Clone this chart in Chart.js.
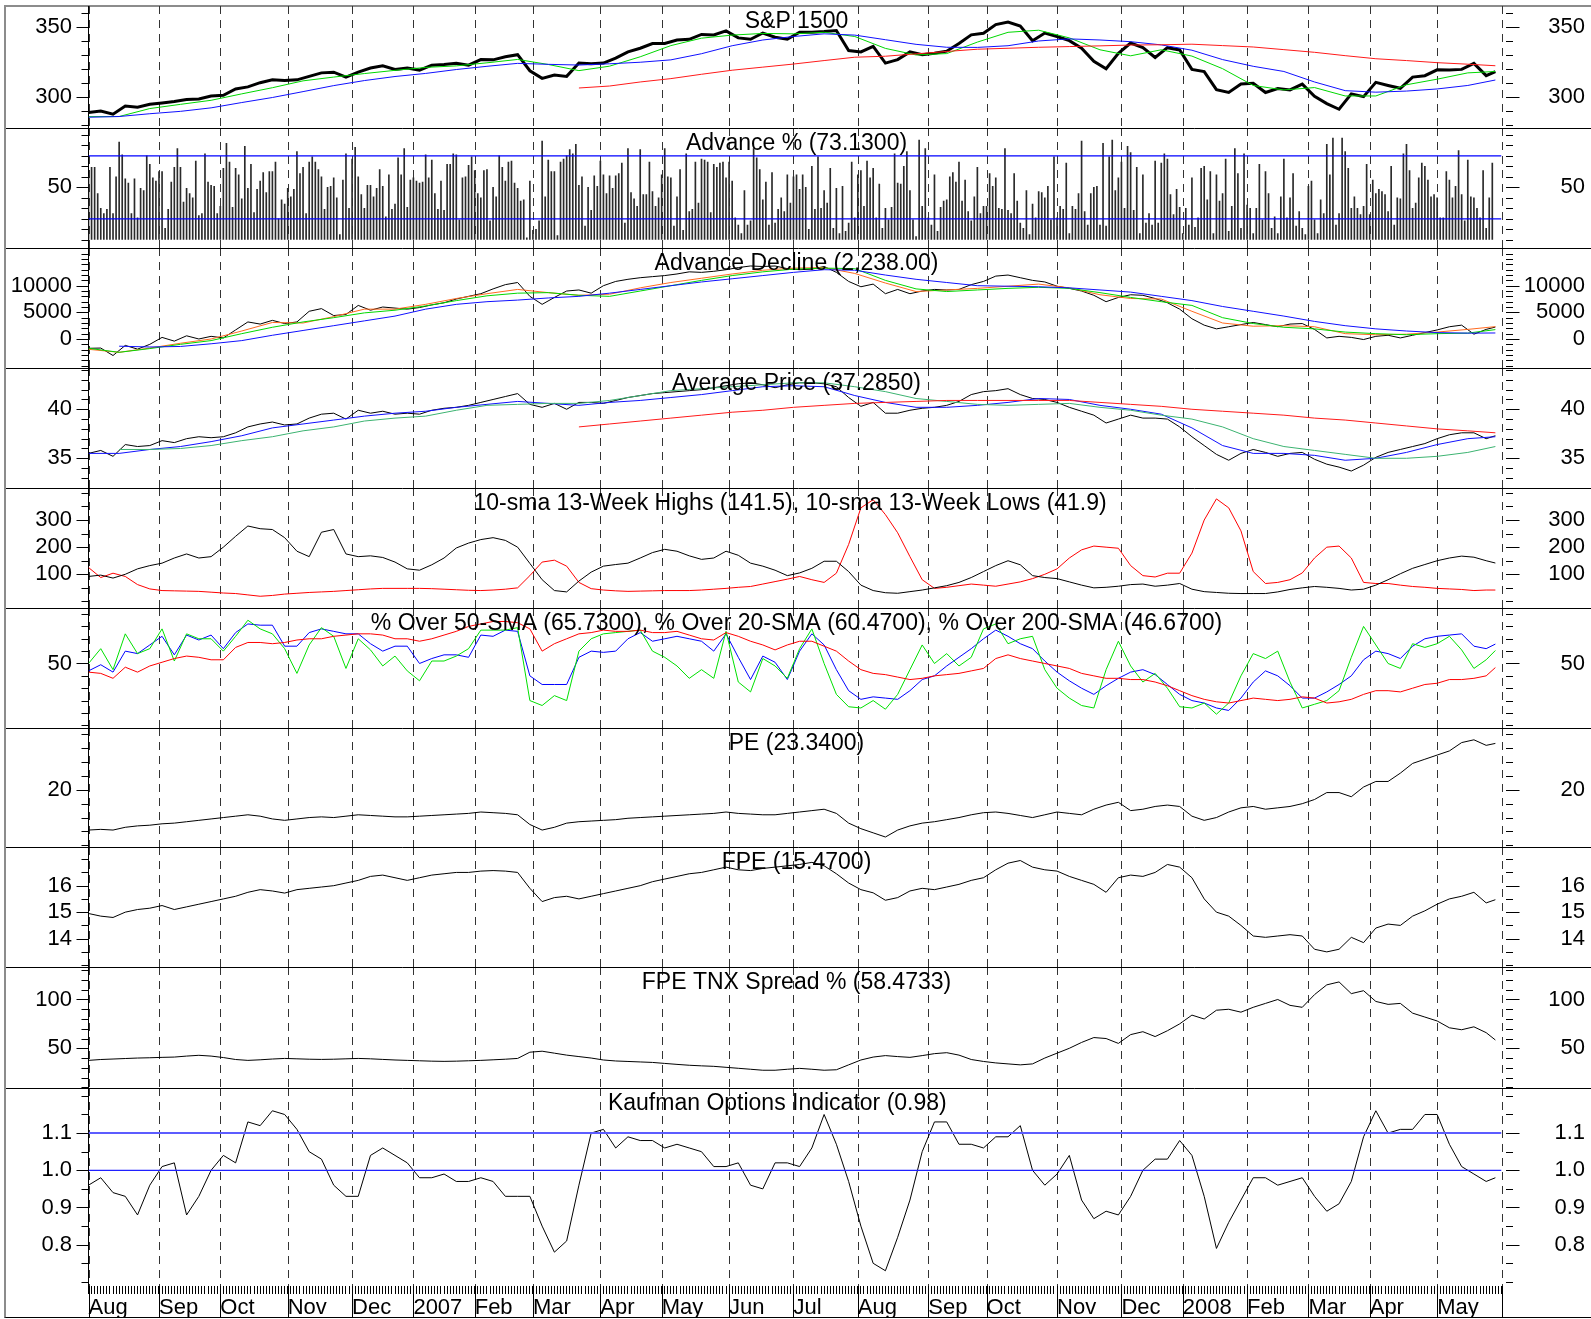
<!DOCTYPE html>
<html>
<head>
<meta charset="utf-8">
<title>S&amp;P 1500 breadth panels</title>
<script src="https://cdn.jsdelivr.net/npm/chart.js@4.4.0/dist/chart.umd.min.js"></script>
<style>
  html, body { margin: 0; padding: 0; background: #fff; }
  #page { position: relative; width: 1591px; height: 1319px; overflow: hidden; }
  #frame { position: absolute; left: 4px; top: 5px; width: 1587px; height: 1313px; box-sizing: border-box;
           border-left: 2px solid #8c8c8c; border-top: 2px solid #8c8c8c; border-bottom: 1px solid #000; }
  canvas { position: absolute; left: 0; }
</style>
</head>
<body>
<div id="page"><div id="frame"></div></div>
<script>
// x axis = trading days, day 0 = first session of Aug 2006
const monthNames = ['Aug','Sep','Oct','Nov','Dec','2007','Feb','Mar','Apr','May','Jun','Jul','Aug','Sep','Oct','Nov','Dec','2008','Feb','Mar','Apr','May'];
const monthStartDays = [0,23,43,65,86,106,126,145,167,187,209,230,251,274,293,316,337,357,378,398,418,440,461];
const lastDataDay = 459;
const sampleStep = 4;   // days between samples of the main lines
const maStep = 10;      // days between samples of the moving averages

// S&P 1500
const spClose = [288.6,289.8,287.5,293.3,292.5,294.5,295.5,296.5,298,298.4,
  300.5,301,305.5,307,310,312,311.5,312,314.5,317,
  317.5,314,317.5,320.5,322,319.5,320.5,319,322.5,323,
  323.8,322.5,326.5,326.3,328.5,330,318.5,313.1,315.5,314.5,
  324,323.5,324,327.5,332,334.6,338,338,340.5,341,
  344.5,344.1,347,342,341,345.5,342.5,341,346,346,
  346.5,347.3,333,332,336,324,326.5,332,330,331,
  332.5,338,344.2,345.3,351.5,353.3,350.5,340,345.5,343,
  340,334.6,325.3,320,331,338.3,335,328,335,333.4,
  319.5,317.9,305,303,309,309.6,303,305.8,304.8,309,
  300.3,295,291,302,300,310.2,308,306,314,315,
  319.2,319,319.5,323.8,315,317.9];
const spMaGreen = [285.7,285.8,291.5,294.5,297.4,302,306.4,311.3,314,316.5,
  318.8,320.9,322,324.2,326.6,323,318.6,321.8,328.5,336.5,
  341.8,344,345.2,344.9,346,343,334.5,329.8,330.8,339,
  346,347.5,342,333.5,329.2,333.5,329,320,308,304.8,
  306.5,300.5,300.5,308.5,312.5,317,318];
const spMaBlue = [285.3,285.8,287.8,289.5,292,295.8,299.4,303.6,307.9,311.5,
  314.4,316.6,319.4,321.7,323.8,323.1,322.6,323.5,324.6,326.3,
  330.7,336.4,340.5,343,344.9,344,340.7,337.4,335.3,335.2,
  336.4,339.8,341.3,340.5,339.3,337,333.2,326.5,321.7,318,
  310.5,304.3,303.2,304,305.5,308,311.9];
const spMaRed = [null,null,null,null,null,null,null,null,null,null,
  null,null,null,null,null,null,306.2,307.6,310.5,312.9,
  316,318.9,321.1,323.3,325.8,328.2,328.9,330.6,332.3,333.9,
  334.6,335.3,335.8,336.3,336.9,337.1,337.5,336.5,335.5,333.6,
  331.7,329.3,327.1,325.8,324.3,323.2,322.1];
const spRange = [277.6, 364.8], spTickLabels = [300, 350];

// Advance %, one bar per session
const advancePct = [60,
  69,69,44,30,25,29,69,25,60,93, 81,58,54,25,58,21,49,47,80,72, 59,56,65,65,11,29,55,69,87,69,
  36,49,44,40,75,23,25,82,55,52, 51,25,32,68,92,74,31,68,62,39, 89,49,72,26,48,56,64,45,65,65,
  74,20,38,34,49,41,48,84,63,69, 25,74,79,74,67,60,29,50,51,59, 40,5,57,82,30,77,88,60,43,30,
  52,52,41,49,67,51,22,62,29,34, 78,62,87,31,57,59,56,54,55,81, 59,76,44,29,56,28,72,72,82,81,
  19,59,60,71,79,66,44,40,66,67, 18,50,41,80,69,56,74,75,54,49, 37,38,2,56,9,10,18,94,41,76,
  65,65,4,74,77,80,86,82,91,52, 60,13,50,28,61,51,75,62,44,61, 49,61,63,73,16,87,45,39,32,86,
  43,43,74,46,32,40,62,87,60,59, 13,41,67,9,82,27,29,74,35,77, 76,74,26,72,69,73,74,59,74,56,
  21,14,6,47,14,18,87,78,67,38, 55,14,64,16,29,40,27,62,35,60,
  62,48,62,50,10,70,29,79,30, 47,35,68,11,49,6,51,8,16,74, 21,62,66,32,75,59,68,21,53,11,
  30,19,31,82,54,53,70,84,47,19, 3,95,32,87,21,14,62,8,31,37, 38,60,64,55,74,37,57,27,18,41,
  69,25,32,32,63,51,59,30,29,87, 28,25,63,37,16,11,47,5,34,21, 46,45,40,51,19,79,21,32,29,73,
  6,32,29,44,94,27,14,44,50,51, 14,92,13,79,95,47,59,74,30,89, 83,28,69,6,62,16,25,14,75,16,
  73,82,77,43,24,48,31,6,30,14, 59,12,21,68,70,38,65,6,62,37, 44,77,8,32,87,63,11,82,33,30,
  6,30,72,19,65,44,11,22,6,41, 77,21,40,63,13,27,11,5,51,56, 19,6,38,25,91,62,97,14,25,97,
  84,68,30,41,30,24,32,72,24,57, 44,48,46,43,27,70,14,40,39,82, 91,66,30,35,59,73,70,57,41,43,
  40,21,21,65,57,40,51,85,43,18, 76,41,40,30,21,66,11,40,73];
const advanceLevels = [20, 80];
const advRange = [-7.8, 106.5], advTickLabels = [50];

// Advance Decline line
const adLine = [-1745,-1700,-3100,-1200,-1900,-1000,300,-400,600,0,
  500,200,1700,3200,2800,3500,2900,3200,5200,5700,
  4400,4600,6300,5400,6000,5800,5600,5900,6400,6800,
  7500,8000,8500,9400,10200,10600,8000,6500,7800,9000,
  9200,8600,10000,10800,11200,11500,11700,11900,12200,12600,
  12500,12700,13000,13400,13700,13600,13700,13200,13000,13100,
  13600,12500,10800,9800,10300,8500,9300,8500,9000,9300,
  9200,9300,10200,10800,11800,12000,11500,11000,10700,9900,
  9500,9000,8200,7000,7800,8300,8200,7600,6800,5600,
  3800,2600,1900,2300,2700,3100,2700,2300,2800,2900,
  1800,200,500,300,-100,500,700,200,700,1200,
  1700,2300,2600,900,1800,2238];
const adMaOrange = [-1932,-2500,-1700,-800,0,1500,3100,3000,4200,5600,
  5600,6500,7600,8500,9300,8700,8200,8400,9600,10600,
  11400,12200,12900,13300,13400,12300,10500,8900,9200,9500,
  9900,10300,9600,8300,7600,7500,5200,3000,2400,2500,
  2300,1000,800,900,1300,1800,2320];
const adMaGreen = [-1745,-2500,-1800,-1000,-300,1000,2200,3200,4000,4900,
  5400,6200,7200,8100,8600,8700,8200,8000,9000,10000,
  11000,11900,12600,13100,13300,13200,11000,9400,8900,9200,
  9500,9700,9500,8700,7800,7000,6300,4000,2900,2200,
  1900,1300,1000,800,1000,1100,1760];
const adMaBlue = [null,-1350,-1500,-1400,-900,-300,700,1600,2500,3400,
  4300,5600,6500,7000,7300,7700,8000,8600,9300,10000,
  10700,11300,11900,12500,13000,12900,12000,11200,10600,10000,
  9900,9800,9600,9200,8800,8000,7200,6100,5200,4300,
  3300,2500,1900,1500,1200,1100,1130];
const adRange = [-5441, 17073], adTickLabels = [0, 5000, 10000];

// Average Price
const avgPrice = [35.5,35.8,35.2,36.4,36.2,36.3,36.8,36.6,37.0,37.2,
  37.1,37.2,37.6,38.2,38.5,38.7,38.4,38.5,39.1,39.5,
  39.6,39.0,39.9,39.6,39.8,39.5,39.6,39.5,39.9,40.1,
  40.2,40.4,40.7,41.0,41.3,41.6,40.5,40.2,40.6,40.0,
  40.7,40.7,40.6,40.9,41.2,41.4,41.6,41.7,41.8,41.9,
  42.0,42.2,42.4,42.6,42.7,42.5,42.2,42.5,42.7,42.7,
  42.6,42.3,41.2,40.3,40.7,39.6,39.6,39.9,40.1,40.2,
  40.4,40.8,41.5,41.8,41.9,42.1,41.5,41.1,41.0,40.7,
  40.2,39.8,39.4,38.6,39.0,39.4,39.1,39.1,39.0,38.2,
  37.2,36.3,35.4,34.8,35.5,35.9,35.6,35.2,35.5,35.6,
  34.9,34.4,34.1,33.7,34.3,35.1,35.6,35.9,36.2,36.5,
  37.0,37.4,37.6,37.6,37.0,37.3];
const avgMaBlue = [35.5,35.5,35.9,36.2,36.7,37.3,38.1,38.5,38.9,39.3,
  39.6,39.8,40.2,40.5,40.8,40.6,40.4,40.7,40.9,41.2,
  41.5,41.9,42.3,42.4,42.3,41.4,40.7,40.2,40.2,40.4,
  40.7,41.1,41.0,40.4,40.0,39.5,38.1,36.3,35.5,35.5,
  35.3,34.8,35.0,35.6,36.4,37.0,37.2];
const avgMaTeal = [null,35.9,35.9,36.0,36.3,36.8,37.2,37.8,38.2,38.8,
  39.1,39.3,39.9,40.4,40.5,40.6,40.6,40.9,41.4,41.9,
  42.1,42.3,42.5,42.7,42.7,42.3,41.8,41.1,40.8,40.5,
  40.4,40.5,40.6,40.2,39.9,39.4,39.0,38.2,37.0,36.2,
  35.8,35.4,35.0,35.0,35.2,35.6,36.2];
const avgMaRed = [null,null,null,null,null,null,null,null,null,null,
  null,null,null,null,null,null,38.2,38.5,38.8,39.1,
  39.4,39.7,39.9,40.2,40.4,40.6,40.7,40.8,40.9,40.9,
  40.9,40.9,40.9,40.7,40.5,40.3,40.0,39.8,39.6,39.4,
  39.1,38.9,38.6,38.3,38.0,37.8,37.6];
const avgRange = [31.97, 44.21], avgTickLabels = [35, 40];

// 10-sma of 13-week highs / lows
const newHighs = [92,97,86,100,120,132,141,160,175,160,
  165,200,240,278,268,265,235,185,165,255,
  265,175,165,168,162,145,120,115,135,160,
  197,215,228,235,225,200,140,80,40,35,
  75,108,130,136,141,160,180,192,185,168,
  155,160,185,170,141,130,115,95,105,122,
  148,148,110,60,40,32,30,36,42,50,
  58,70,88,110,132,150,135,95,88,84,
  72,60,50,52,56,62,64,56,60,66,
  45,36,33,30,29,29,29,35,44,50,
  55,52,48,42,45,60,80,102,122,136,
  150,160,167,163,150,141.5];
const newLows = [125,88,104,92,62,46,40,39,38,37,
  34,31,29,24,19,22,27,30,33,35,
  37,40,43,46,48,48,48,48,47,45,
  43,41,40,42,45,50,95,145,152,130,
  70,47,42,39,37,38,39,40,40,40,
  42,45,48,52,55,64,73,82,92,80,
  70,104,210,345,375,320,253,165,80,48,
  52,58,64,60,56,64,72,84,100,120,
  160,190,204,200,196,132,95,90,104,104,
  178,300,378,345,260,110,66,70,80,105,
  160,200,204,160,70,66,66,60,55,52,
  48,46,44,40,42,41.9];
const hlRange = [-24.3, 418.1], hlTickLabels = [100, 200, 300];

// % of members above moving averages
const over50 = [44,49,43,60,58,65,72,57,73,69,
  73,62,75,82,81,81,64,64,75,78,
  76,74,74,66,60,64,64,50,54,57,
  57,55,73,72,77,76,40,33,33,33,
  55,60,59,60,70,75,68,70,72,70,
  68,60,74,55,37,56,51,37,60,74,
  65,45,28,21,23,22,21,28,37,40,
  48,55,62,70,77,72,66,62,52,43,
  36,30,25,32,38,43,45,41,33,25,
  20,18,14,12,22,35,44,40,32,22,
  22,27,33,40,53,60,58,54,64,70,
  72,73,74,64,62,65.7];
const over20 = [50,62,45,74,58,62,78,52,74,70,
  70,60,72,85,78,74,62,42,65,79,
  72,46,70,61,48,56,44,36,52,52,
  56,62,77,77,77,79,20,16,24,20,
  60,70,74,75,76,77,60,55,48,38,
  45,38,76,35,27,54,48,38,62,78,
  50,25,15,14,20,13,25,45,65,50,
  58,48,55,78,82,66,70,72,45,30,
  22,16,14,45,68,48,35,42,30,15,
  14,18,9,18,40,58,54,60,35,14,
  17,20,28,55,80,65,50,46,66,63,
  66,72,61,46,53,60.5];
const over200 = [43,42,38,47,43,48,51,54,56,55,
  53,53,63,67,67,66,67,69,70,70,
  72,73,74,74,73,70,70,68,70,73,
  76,80,82,84,84,83,78,60,66,70,
  74,75,77,76,76,77,75,75,76,73,
  70,69,75,72,68,65,61,65,68,68,
  64,60,52,45,42,41,39,37,38,40,
  41,42,44,46,54,57,54,52,50,48,
  46,42,40,38,38,37,37,35,32,28,
  24,21,19,18,20,22,21,20,21,23,
  22,18,19,21,25,28,28,27,30,33,
  34,37,37,38,40,46.7];
const overRange = [-2.2, 94.9], overTickLabels = [50];

// PE, forward PE, FPE-TNX spread
const pe = [17.1,17.15,17.1,17.3,17.4,17.45,17.55,17.6,17.7,17.8,
  17.9,18.0,18.1,18.2,18.1,17.9,17.8,17.9,18.0,18.05,
  18.0,18.1,18.2,18.15,18.1,18.05,18.05,18.1,18.15,18.2,
  18.25,18.3,18.4,18.35,18.3,18.2,17.5,17.1,17.3,17.6,
  17.7,17.75,17.8,17.85,17.95,18.0,18.05,18.1,18.15,18.2,
  18.25,18.3,18.4,18.3,18.25,18.2,18.2,18.3,18.4,18.5,
  18.6,18.3,17.6,17.2,16.9,16.6,17.1,17.4,17.6,17.7,
  17.85,18.0,18.2,18.35,18.4,18.3,18.15,18.0,18.2,18.4,
  18.3,18.2,18.6,18.9,19.1,18.5,18.6,18.8,18.9,18.8,
  18.1,17.8,18.0,18.4,18.7,18.8,18.6,18.7,18.8,19.0,
  19.3,19.8,19.8,19.5,20.2,20.6,20.6,21.2,21.9,22.2,
  22.5,22.8,23.4,23.6,23.2,23.34];
const peRange = [15.88, 24.45], peTickLabels = [20];

const fpe = [14.95,14.85,14.8,15.0,15.1,15.15,15.25,15.1,15.2,15.3,
  15.4,15.5,15.6,15.75,15.85,15.8,15.72,15.85,15.9,15.95,
  16.0,16.1,16.2,16.35,16.4,16.3,16.2,16.3,16.4,16.45,
  16.5,16.5,16.55,16.57,16.55,16.5,15.9,15.4,15.55,15.6,
  15.5,15.6,15.7,15.8,15.9,16.0,16.15,16.25,16.35,16.45,
  16.5,16.6,16.7,16.6,16.57,16.65,16.7,16.75,16.8,16.88,
  16.75,16.45,16.1,15.85,15.73,15.45,15.55,15.8,15.9,15.85,
  15.95,16.05,16.2,16.3,16.6,16.85,16.95,16.7,16.6,16.55,
  16.35,16.2,16.05,15.75,16.3,16.4,16.35,16.5,16.8,16.7,
  16.3,15.5,15.0,14.85,14.5,14.1,14.05,14.1,14.15,14.1,
  13.6,13.5,13.6,14.05,13.85,14.4,14.55,14.5,14.85,15.05,
  15.3,15.5,15.6,15.75,15.35,15.47];
const fpeRange = [12.93, 17.46], fpeTickLabels = [14, 15, 16];

const spread = [37.6,38.5,39,39.5,40,40.3,40.7,41,42,42.8,
  42,40.5,38.5,37.6,38.2,39,39.6,39.2,38.8,38.6,
  38.8,39.2,39.6,39.2,38.6,38,37.6,37.2,36.8,36.6,
  36.8,37.2,37.6,38.2,38.8,39.6,46,47,45,43,
  41.5,40,38,37,36.5,36,35.5,34.5,33.5,32.6,
  32,31.5,30.5,29.5,28.5,27.5,27.5,28.5,29.4,28.5,
  27.5,28,33,38,41,42.5,41.5,40.7,42.5,44.5,
  45.5,43,38.5,36.5,35,34,33,34,40,45,
  50,56,61,60,55,64,67,62,68,75,
  84,80,89,90,87,92,96,100,94,92,
  105,115,118,106,109,98,95,96,86,82,
  78,71,69,72,66,58.5];
const spreadRange = [9.3, 133.3], spreadTickLabels = [50, 100];

// Kaufman Options Indicator
const kaufman = [0.96,0.98,0.94,0.93,0.88,0.96,1.01,1.02,0.88,0.93,
  1.0,1.04,1.02,1.13,1.12,1.16,1.15,1.11,1.05,1.03,
  0.96,0.93,0.93,1.04,1.06,1.04,1.02,0.98,0.98,0.99,
  0.97,0.97,0.98,0.97,0.93,0.93,0.93,0.85,0.78,0.81,
  0.96,1.10,1.11,1.06,1.09,1.08,1.08,1.06,1.07,1.06,
  1.05,1.01,1.01,1.02,0.96,0.95,1.02,1.02,1.01,1.06,
  1.15,1.07,0.97,0.85,0.75,0.73,0.82,0.92,1.05,1.13,
  1.13,1.07,1.07,1.06,1.09,1.09,1.12,1.0,0.96,0.99,
  1.04,0.92,0.87,0.89,0.88,0.93,1.0,1.03,1.03,1.08,
  1.04,0.93,0.79,0.86,0.92,0.98,0.98,0.96,0.97,0.98,
  0.93,0.89,0.91,0.97,1.09,1.16,1.10,1.11,1.11,1.15,
  1.15,1.07,1.01,0.99,0.97,0.98];
const kaufmanLevels = [1.0, 1.1];
const kaufRange = [0.689, 1.2212], kaufTickLabels = [0.8, 0.9, 1.0, 1.1];

// ---------------------------------------------------------------
Chart.defaults.font.family = '"Liberation Sans", Arial, Helvetica, sans-serif';
Chart.defaults.color = '#000';

const xMax = monthStartDays[monthStartDays.length - 1];
const pts = (vals, step) => vals.map((y, i) => ({ x: Math.min(i * step, lastDataDay), y }));
const line = (vals, step, color, width) => ({
  type: 'line', data: pts(vals, step), borderColor: color, borderWidth: width || 1,
  pointRadius: 0, tension: 0, fill: false, order: 1
});
const level = (y, color, width) => ({
  type: 'line', data: [{ x: 0, y }, { x: xMax, y }], borderColor: color, borderWidth: width,
  pointRadius: 0, fill: false, order: 0
});
const hasLabel = (labels, v) => labels.some(l => Math.abs(l - v) < 1e-6);
const noPad = s => { s.paddingTop = 0; s.paddingBottom = 0; s.paddingLeft = 0; s.paddingRight = 0; };

// draws month grid, titles, axis tick marks and panel separators
const panelDecor = {
  id: 'panelDecor',
  beforeDatasetsDraw(chart, args, o) {
    const { ctx, chartArea: a, scales: { x } } = chart;
    ctx.save();
    ctx.strokeStyle = '#333';
    ctx.lineWidth = 1;
    ctx.setLineDash([8, 6]);
    monthStartDays.forEach(d => {
      const px = Math.round(x.getPixelForValue(d)) + 0.5;
      ctx.beginPath(); ctx.moveTo(px, a.top); ctx.lineTo(px, a.bottom); ctx.stroke();
    });
    ctx.restore();
  },
  afterDatasetsDraw(chart, args, o) {
    const { ctx, chartArea: a } = chart;
    ctx.save();
    ctx.font = '23px "Liberation Sans", Arial, sans-serif';
    ctx.fillStyle = '#000';
    ctx.textAlign = 'center';
    ctx.textBaseline = 'alphabetic';
    ctx.fillText(o.title, 796.5, a.top + 22);
    ctx.restore();
  },
  afterDraw(chart, args, o) {
    const { ctx, chartArea: a } = chart;
    const y = chart.scales.y;
    ctx.save();
    ctx.strokeStyle = '#000';
    ctx.lineWidth = 1;
    y.ticks.forEach(t => {
      const py = Math.round(y.getPixelForValue(t.value)) + 0.5;
      const major = hasLabel(o.labels, t.value);
      ctx.beginPath(); ctx.moveTo(a.left - (major ? 12 : 7), py); ctx.lineTo(a.left, py); ctx.stroke();
      ctx.beginPath(); ctx.moveTo(a.right + 4.5, py); ctx.lineTo(a.right + (major ? 18 : 11.5), py); ctx.stroke();
    });
    if (o.separator) {
      ctx.beginPath(); ctx.moveTo(6, 0.5); ctx.lineTo(chart.width, 0.5); ctx.stroke();
    }
    if (o.dateAxis) {
      const x = chart.scales.x;
      monthStartDays.forEach(d => {
        const px = Math.round(x.getPixelForValue(d)) + 0.5;
        ctx.beginPath(); ctx.moveTo(px, a.bottom); ctx.lineTo(px, chart.height); ctx.stroke();
      });
    }
    ctx.restore();
  }
};

function yAxes(range, step, labels, digits) {
  const first = Math.ceil(range[0] / step - 1e-9);
  const last = Math.floor(range[1] / step + 1e-9);
  const values = [];
  for (let k = first; k <= last; k++) values.push(+(k * step).toFixed(4));
  const fmt = v => hasLabel(labels, v) ? v.toFixed(digits) : '';
  const common = {
    min: range[0], max: range[1],
    afterBuildTicks: s => { s.ticks = values.map(v => ({ value: v })); },
    grid: { display: true, drawOnChartArea: false, drawTicks: false },
    ticks: { autoSkip: false, callback: fmt, font: { size: 22 }, color: '#000' }
  };
  return {
    y: Object.assign({}, common, {
      position: 'left',
      afterFit: s => { s.width = 88.5; noPad(s); },
      border: { display: true, color: '#000', width: 1 },
      ticks: Object.assign({}, common.ticks, { padding: 16.5 })
    }),
    y2: Object.assign({}, common, {
      position: 'right',
      afterFit: s => { s.width = 83.5; noPad(s); },
      border: { display: false },
      ticks: Object.assign({}, common.ticks, { crossAlign: 'far', padding: 20 })
    })
  };
}

const dayTicks = Array.from({ length: xMax + 1 }, (_, i) => i);
const monthLabelAt = {};
monthNames.forEach((m, i) => { monthLabelAt[monthStartDays[i]] = m; });

const panels = [
  { top: 6, height: 122, title: 'S&P 1500', range: spRange, step: 10, labels: spTickLabels, digits: 0,
    datasets: [line(spMaRed, maStep, '#ff1a1a'), line(spMaBlue, maStep, '#1010ff'),
               line(spMaGreen, maStep, '#00d800'), line(spClose, sampleStep, '#000', 3)] },
  { top: 128, height: 120, title: 'Advance % (73.1300)', range: advRange, step: 10, labels: advTickLabels, digits: 0,
    datasets: [
      { type: 'bar', data: advancePct.map((y, i) => ({ x: i, y })), backgroundColor: '#2a2a2a',
        barThickness: 1, borderWidth: 0, order: 1 },
      level(advanceLevels[0], '#0000ff', 1.2), level(advanceLevels[1], '#0000ff', 1.2)] },
  { top: 248, height: 120, title: 'Advance Decline (2,238.00)', range: adRange, step: 1000, labels: adTickLabels, digits: 0,
    datasets: [line(adMaBlue, maStep, '#1010ff'), line(adMaGreen, maStep, '#00d800'),
               line(adMaOrange, maStep, '#ff6a20'), line(adLine, sampleStep, '#000')] },
  { top: 368, height: 120, title: 'Average Price (37.2850)', range: avgRange, step: 1, labels: avgTickLabels, digits: 0,
    datasets: [line(avgMaRed, maStep, '#ff1a1a'), line(avgMaTeal, maStep, '#3cb371'),
               line(avgMaBlue, maStep, '#1010ff'), line(avgPrice, sampleStep, '#000')] },
  { top: 488, height: 120, title: '10-sma 13-Week Highs (141.5), 10-sma 13-Week Lows (41.9)  ', range: hlRange, step: 50,
    labels: hlTickLabels, digits: 0,
    datasets: [line(newHighs, sampleStep, '#000'), line(newLows, sampleStep, '#ff0000')] },
  { top: 608, height: 120, title: '% Over 50-SMA (65.7300), % Over 20-SMA (60.4700), % Over 200-SMA (46.6700)',
    range: overRange, step: 10, labels: overTickLabels, digits: 0,
    datasets: [line(over200, sampleStep, '#ff0000'), line(over20, sampleStep, '#00e000'),
               line(over50, sampleStep, '#0000ff')] },
  { top: 728, height: 119, title: 'PE (23.3400)', range: peRange, step: 1, labels: peTickLabels, digits: 0,
    datasets: [line(pe, sampleStep, '#000')] },
  { top: 847, height: 120, title: 'FPE (15.4700)', range: fpeRange, step: 0.5, labels: fpeTickLabels, digits: 0,
    datasets: [line(fpe, sampleStep, '#000')] },
  { top: 967, height: 121, title: 'FPE TNX Spread % (58.4733)', range: spreadRange, step: 10, labels: spreadTickLabels, digits: 0,
    datasets: [line(spread, sampleStep, '#000')] },
  { top: 1088, height: 229, title: 'Kaufman Options Indicator (0.98)      ', range: kaufRange, step: 0.05,
    labels: kaufTickLabels, digits: 1, dateAxis: true,
    datasets: [level(kaufmanLevels[1], '#5c5cff', 2), level(kaufmanLevels[0], '#2020ff', 1.2),
               line(kaufman, sampleStep, '#000')] }
];

const page = document.getElementById('page');
panels.forEach((p, idx) => {
  const canvas = document.createElement('canvas');
  canvas.width = 1591;
  canvas.height = p.height;
  canvas.style.top = p.top + 'px';
  canvas.style.width = '1591px';
  canvas.style.height = p.height + 'px';
  page.appendChild(canvas);

  const xScale = p.dateAxis ? {
    type: 'linear', min: 0, max: xMax, offset: false, display: true, position: 'bottom',
    afterFit: s => { s.height = 31; noPad(s); },
    afterBuildTicks: s => { s.ticks = dayTicks.map(v => ({ value: v })); },
    grid: { display: true, drawOnChartArea: false, drawTicks: true, tickLength: 8, tickColor: '#000', tickWidth: 1 },
    border: { display: false },
    ticks: { autoSkip: false, maxRotation: 0, minRotation: 0, align: 'start', padding: 3,
             font: { size: 22, lineHeight: 1 }, color: '#000',
             callback: v => monthLabelAt[v] || '' }
  } : { type: 'linear', min: 0, max: xMax, offset: false, display: false };

  new Chart(canvas, {
    type: 'line',
    data: { datasets: p.datasets },
    options: {
      responsive: false,
      animation: false,
      events: [],
      layout: { autoPadding: false, padding: { left: 0, right: 6, top: 0, bottom: 0 } },
      plugins: {
        legend: { display: false },
        tooltip: { enabled: false },
        panelDecor: { title: p.title, labels: p.labels, separator: idx > 0, dateAxis: !!p.dateAxis }
      },
      scales: Object.assign({ x: xScale }, yAxes(p.range, p.step, p.labels, p.digits))
    },
    plugins: [panelDecor]
  });
});
</script>
</body>
</html>
